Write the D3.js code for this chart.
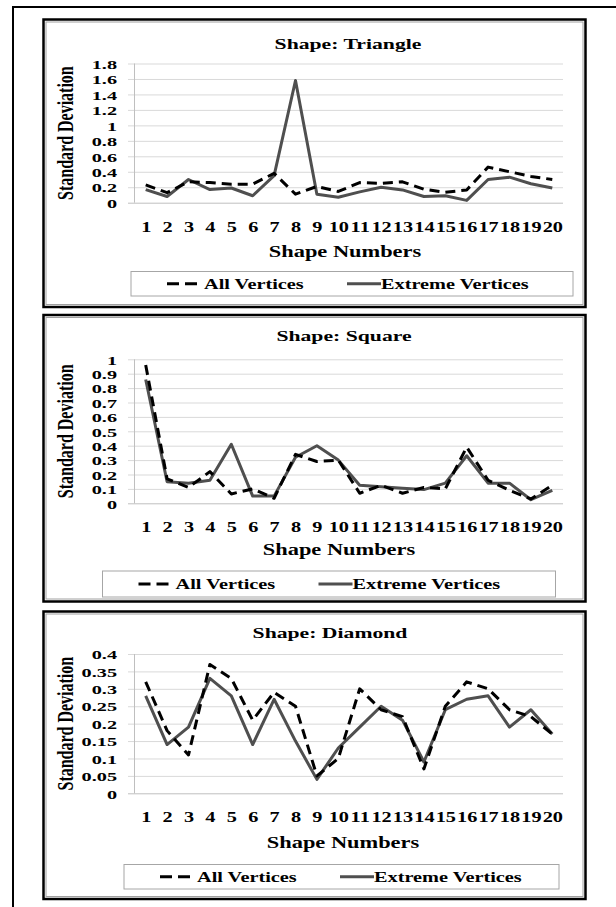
<!DOCTYPE html>
<html>
<head>
<meta charset="utf-8">
<script src="https://cdn.jsdelivr.net/npm/d3@7"></script>
<style>
  html, body { margin: 0; padding: 0; background: #fff; }
  svg { display: block; }
</style>
</head>
<body>
<div id="chart"></div>
<script>
// shape numbers on the x axis
const shapeNumbers = ['1','2','3','4','5','6','7','8','9','10','11','12','13','14','15','16','17','18','19','20'];

// standard deviation values
const triangleAll     = [0.23, 0.13, 0.27, 0.26, 0.24, 0.24, 0.38, 0.11, 0.21, 0.145, 0.26, 0.25, 0.27, 0.175, 0.135, 0.165, 0.46, 0.40, 0.34, 0.30];
const triangleExtreme = [0.17, 0.08, 0.30, 0.17, 0.19, 0.09, 0.35, 1.58, 0.11, 0.07, 0.14, 0.20, 0.165, 0.08, 0.09, 0.03, 0.30, 0.33, 0.245, 0.19];
const squareAll       = [0.96, 0.17, 0.11, 0.22, 0.065, 0.10, 0.035, 0.34, 0.29, 0.30, 0.07, 0.125, 0.07, 0.11, 0.10, 0.39, 0.16, 0.09, 0.03, 0.125];
const squareExtreme   = [0.86, 0.15, 0.14, 0.16, 0.41, 0.05, 0.05, 0.32, 0.40, 0.30, 0.125, 0.115, 0.105, 0.095, 0.14, 0.33, 0.14, 0.14, 0.025, 0.09];
const diamondAll      = [0.32, 0.18, 0.11, 0.37, 0.33, 0.21, 0.29, 0.25, 0.05, 0.10, 0.30, 0.24, 0.22, 0.07, 0.25, 0.32, 0.30, 0.24, 0.22, 0.17];
const diamondExtreme  = [0.28, 0.14, 0.19, 0.33, 0.28, 0.14, 0.27, 0.15, 0.04, 0.13, 0.19, 0.25, 0.21, 0.09, 0.24, 0.27, 0.28, 0.19, 0.24, 0.17];

// tick labels
const triangleTicks = [0, 0.2, 0.4, 0.6, 0.8, 1, 1.2, 1.4, 1.6, 1.8];
const squareTicks   = [0, 0.1, 0.2, 0.3, 0.4, 0.5, 0.6, 0.7, 0.8, 0.9, 1];
const diamondTicks  = [0, 0.05, 0.1, 0.15, 0.2, 0.25, 0.3, 0.35, 0.4];

const titles = ['Shape: Triangle', 'Shape: Square', 'Shape: Diamond'];
const seriesNames = ['All Vertices', 'Extreme Vertices'];
const xTitle = 'Shape Numbers';
const yTitle = 'Standard Deviation';

const W = 616, H = 907;
const SX = 1.4;            // the picture is stretched horizontally
const FONT = '"Liberation Serif", "Times New Roman", serif';
const plotLeft = 135, plotRight = 563, gridLeft = 128;

// layout per panel
const panels = [
    { title: titles[0], all: triangleAll, extreme: triangleExtreme, ticks: triangleTicks, fmt: d3.format('~g'),
      box: [43.5, 19.5, 585.5, 307], zero: 202.7, top: 63.5, titleX: 348, titleY: 48.5,
      xTitleX: 345, xTitleY: 256.5, legend: [131, 271.5, 442, 24.5] },
    { title: titles[1], all: squareAll, extreme: squareExtreme, ticks: squareTicks, fmt: d3.format('~g'),
      box: [43.5, 315, 585.5, 601.5], zero: 503.3, top: 359.3, titleX: 344, titleY: 341.4,
      xTitleX: 339, xTitleY: 555, legend: [102.5, 571, 453, 26] },
    { title: titles[2], all: diamondAll, extreme: diamondExtreme, ticks: diamondTicks, fmt: d3.format('~g'),
      box: [43.5, 611.5, 585.5, 899], zero: 793.3, top: 654, titleX: 330, titleY: 637.8,
      xTitleX: 343, xTitleY: 848, legend: [124, 864.5, 435, 24.5] }
];

const svg = d3.select('#chart').append('svg')
    .attr('width', W)
    .attr('height', H)
    .attr('viewBox', [0, 0, W, H]);

// outer frame (top and left only)
svg.append('path')
    .attr('d', `M${W},7 L13,7 L13,${H}`)
    .attr('fill', 'none')
    .attr('stroke', '#000')
    .attr('stroke-width', 2);

function stretchText(g, x, y, str, size, anchor) {
    return g.append('text')
        .attr('transform', `translate(${x},${y}) scale(${SX},1)`)
        .attr('text-anchor', anchor || 'middle')
        .attr('font-family', FONT)
        .attr('font-weight', 'bold')
        .attr('font-size', size)
        .attr('fill', '#000')
        .text(str);
}

const x = d3.scalePoint(shapeNumbers, [plotLeft, plotRight]).padding(0.5);

panels.forEach((p) => {
    const g = svg.append('g');
    const [x0, y0, x1, y1] = p.box;

    // panel frame with a grey inner edge
    g.append('rect')
        .attr('x', x0).attr('y', y0)
        .attr('width', x1 - x0).attr('height', y1 - y0)
        .attr('fill', '#fff')
        .attr('stroke', '#000')
        .attr('stroke-width', 2.5);
    g.append('rect')
        .attr('x', x0 + 2.5).attr('y', y0 + 2.5)
        .attr('width', x1 - x0 - 5).attr('height', y1 - y0 - 5)
        .attr('fill', 'none')
        .attr('stroke', '#a0a0a0')
        .attr('stroke-width', 1);

    const y = d3.scaleLinear()
        .domain([0, d3.max(p.ticks)])
        .range([p.zero, p.top]);

    // gridlines + y tick labels
    const yAxis = g.append('g')
        .attr('transform', `translate(${plotRight},0)`)
        .call(d3.axisLeft(y)
            .tickValues(p.ticks)
            .tickFormat(p.fmt)
            .tickSize(plotRight - gridLeft)
            .tickPadding(0));
    yAxis.select('.domain').remove();
    yAxis.selectAll('.tick line')
        .attr('stroke', (d) => d === 0 ? '#bfbfbf' : '#d9d9d9')
        .attr('stroke-width', 1);
    yAxis.selectAll('.tick text')
        .attr('x', null)
        .attr('dy', '0.35em')
        .attr('transform', `translate(${117 - plotRight},0) scale(1.5,1)`)
        .attr('font-family', FONT)
        .attr('font-weight', 'bold')
        .attr('font-size', 13.5)
        .attr('fill', '#000');

    // vertical axis line
    g.append('line')
        .attr('x1', plotLeft - 0.5).attr('x2', plotLeft - 0.5)
        .attr('y1', p.top).attr('y2', p.zero)
        .attr('stroke', '#bfbfbf')
        .attr('stroke-width', 1);

    // x tick labels
    const xAxis = g.append('g')
        .attr('transform', `translate(0,${p.zero})`)
        .call(d3.axisBottom(x).tickSize(0));
    xAxis.select('.domain').remove();
    xAxis.selectAll('.tick text')
        .attr('y', null)
        .attr('dy', null)
        .attr('transform', `translate(0,29) scale(${SX},1)`)
        .attr('font-family', FONT)
        .attr('font-weight', 'bold')
        .attr('font-size', 14.5)
        .attr('fill', '#000');

    // series
    const line = d3.line()
        .x((d, i) => x(shapeNumbers[i]))
        .y((d) => y(d));

    g.append('path')
        .datum(p.extreme)
        .attr('d', line)
        .attr('fill', 'none')
        .attr('stroke', '#4f4f4f')
        .attr('stroke-width', 3)
        .attr('stroke-linejoin', 'round');

    g.append('path')
        .datum(p.all)
        .attr('d', line)
        .attr('fill', 'none')
        .attr('stroke', '#000')
        .attr('stroke-width', 3)
        .attr('stroke-dasharray', '10,6')
        .attr('stroke-linejoin', 'round');

    // titles
    stretchText(g, p.titleX, p.titleY, p.title, 15.5);
    stretchText(g, p.xTitleX, p.xTitleY, xTitle, 16);

    g.append('text')
        .attr('transform', `translate(65,${(p.top + p.zero) / 2}) rotate(-90) scale(1,${SX})`)
        .attr('text-anchor', 'middle')
        .attr('dy', '0.35em')
        .attr('font-family', FONT)
        .attr('font-weight', 'bold')
        .attr('font-size', 16)
        .attr('fill', '#000')
        .text(yTitle);

    // legend
    const [lx, ly, lw, lh] = p.legend;
    const cy = ly + lh / 2;
    g.append('rect')
        .attr('x', lx).attr('y', ly)
        .attr('width', lw).attr('height', lh)
        .attr('fill', '#fff')
        .attr('stroke', '#a6a6a6')
        .attr('stroke-width', 1);
    g.append('line')
        .attr('x1', lx + 36).attr('x2', lx + 66)
        .attr('y1', cy).attr('y2', cy)
        .attr('stroke', '#000')
        .attr('stroke-width', 3)
        .attr('stroke-dasharray', '12,6');
    stretchText(g, lx + 73, cy + 5, seriesNames[0], 14.5, 'start');
    g.append('line')
        .attr('x1', lx + 216).attr('x2', lx + 250)
        .attr('y1', cy).attr('y2', cy)
        .attr('stroke', '#4f4f4f')
        .attr('stroke-width', 3);
    stretchText(g, lx + 250, cy + 5, seriesNames[1], 14.5, 'start');
});
</script>
</body>
</html>
